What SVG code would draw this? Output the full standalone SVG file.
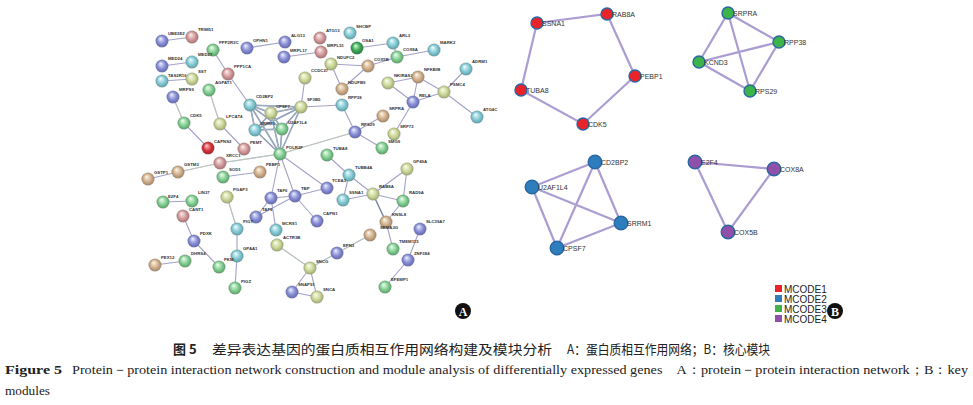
<svg xmlns="http://www.w3.org/2000/svg" width="973" height="405" viewBox="0 0 973 405">
<defs>
<radialGradient id="gB" cx="50%" cy="50%" r="55%" fx="38%" fy="30%"><stop offset="0" stop-color="#eef0ff"/><stop offset="0.55" stop-color="#8a90d6"/><stop offset="1" stop-color="#5a60a8"/></radialGradient>
<radialGradient id="gT" cx="50%" cy="50%" r="55%" fx="38%" fy="30%"><stop offset="0" stop-color="#f0ffff"/><stop offset="0.55" stop-color="#86cbd6"/><stop offset="1" stop-color="#55999f"/></radialGradient>
<radialGradient id="gG" cx="50%" cy="50%" r="55%" fx="38%" fy="30%"><stop offset="0" stop-color="#f0fff0"/><stop offset="0.55" stop-color="#86d096"/><stop offset="1" stop-color="#4f9a60"/></radialGradient>
<radialGradient id="gY" cx="50%" cy="50%" r="55%" fx="38%" fy="30%"><stop offset="0" stop-color="#fbfff0"/><stop offset="0.55" stop-color="#cdd89a"/><stop offset="1" stop-color="#96a268"/></radialGradient>
<radialGradient id="gN" cx="50%" cy="50%" r="55%" fx="38%" fy="30%"><stop offset="0" stop-color="#fff6ea"/><stop offset="0.55" stop-color="#d2b28e"/><stop offset="1" stop-color="#9c7e5e"/></radialGradient>
<radialGradient id="gP" cx="50%" cy="50%" r="55%" fx="38%" fy="30%"><stop offset="0" stop-color="#fff0f0"/><stop offset="0.55" stop-color="#d49c9c"/><stop offset="1" stop-color="#a06a6a"/></radialGradient>
<radialGradient id="gR" cx="50%" cy="50%" r="55%" fx="38%" fy="30%"><stop offset="0" stop-color="#ffd0d0"/><stop offset="0.55" stop-color="#d8363c"/><stop offset="1" stop-color="#9c1a20"/></radialGradient>
<radialGradient id="gD" cx="50%" cy="50%" r="55%" fx="38%" fy="30%"><stop offset="0" stop-color="#d8ffd8"/><stop offset="0.55" stop-color="#3ea858"/><stop offset="1" stop-color="#24753a"/></radialGradient>
</defs>
<style>
.e{stroke:#a3a2c8;stroke-width:1.1;fill:none}
.e2{stroke:#cfe3b0;stroke-width:0.6;fill:none}
.et{stroke:#7c86a8;stroke-width:1.5;fill:none}
.et2{stroke:#bfe0d8;stroke-width:0.5;fill:none}
.n{stroke:#8a8a8a;stroke-width:0.3}
.l{font-family:"Liberation Sans",Arial,sans-serif;font-size:4.3px;fill:#333;font-weight:bold}
.be{stroke:#ab9cd2;stroke-width:2.2;fill:none}
.bn{stroke:#2a67a3;stroke-width:1.4}
.bl{font-family:"Liberation Sans",Arial,sans-serif;font-size:7px;fill:#333}
.lg{font-family:"Liberation Sans",Arial,sans-serif;font-size:10px;fill:#222}
.cn{font-family:"Noto Sans CJK SC","Liberation Serif",serif;font-size:13px;fill:#222}
.en{font-family:"Liberation Serif","Times New Roman",serif;font-size:13px;fill:#222}
.badge{font-family:"Liberation Serif",serif;font-size:12px;fill:#fff;font-weight:bold;text-anchor:middle}
</style>
<rect width="973" height="405" fill="#ffffff"/>

<g id="connectors-A">
<path class="e" d="M162,41L192,37M162,66L192,62M162,81L192,79M213,50L228,74M228,74L250,105M209,90L220,124M220,124L244,149M173,97L184,123M184,123L208,148M247,48L285,42M284,57L321,52"/>
<path class="et" d="M250,105L271,113M250,105L255,130M250,105L282,129M250,105L280,154M271,113L255,130M271,113L282,129M271,113L301,107M271,113L280,154M255,130L282,129M255,130L280,154M255,130L301,107M282,129L301,107M282,129L280,154M301,107L280,154M250,105L301,107"/>
<path class="et2" d="M250,105L271,113M250,105L255,130M250,105L282,129M250,105L280,154M271,113L255,130M271,113L282,129M271,113L301,107M271,113L280,154M255,130L282,129M255,130L280,154M255,130L301,107M282,129L301,107M282,129L280,154M301,107L280,154M250,105L301,107"/>
<path class="e" d="M305,78L301,107M301,107L342,105M280,154L355,132M280,154L220,163M220,163L178,172M178,172L148,179M280,154L271,198M280,154L295,196M280,154L327,188M271,198L295,196M271,198L256,217M295,196L256,217M295,196L327,188M295,196L317,221M271,198L276,230M223,177L260,172"/>
<path class="e" d="M357,48L393,43M393,43L397,57M397,57L434,50M397,57L368,66M331,64L368,66M331,64L342,89M342,89L368,66"/>
<path class="e" d="M388,83L418,77M388,83L413,102M418,77L413,102M418,77L444,92M413,102L444,92M444,92L466,69M444,92L477,117M413,102L394,134"/>
<path class="e" d="M342,105L355,132M355,132L383,116M355,132L382,148M327,155L349,175M349,175L373,194M349,175L343,200M343,200L373,194"/>
<path class="e" d="M373,194L407,169M407,169L403,201M373,194L403,201M403,201L386,222M386,222L393,249M420,229L408,260M408,260L385,287"/>
<path class="et" d="M373,194L386,222"/>
<path class="e" d="M370,235L337,253M337,253L310,268M310,268L277,245M310,268L292,292M310,268L317,297M292,292L317,297M227,197L237,229M237,229L237,256M237,256L235,288M194,241L183,216M194,241L219,267M185,261L155,265M163,202L192,201"/>
<path class="e2" d="M280,154L355,132M280,154L220,163M220,163L178,172M209,90L220,124M173,97L184,123M370,235L337,253M337,253L310,268M227,197L237,229M310,268L277,245"/>
</g>

<g id="nodes-A">
<g id="n-UBE2E2"><circle class="n" cx="162" cy="41" r="6.3" fill="url(#gB)"/><text class="l" x="168" y="35">UBE2E2</text></g>
<g id="n-TRIM51"><circle class="n" cx="192" cy="37" r="6.3" fill="url(#gP)"/><text class="l" x="198" y="31">TRIM51</text></g>
<g id="n-PPP2R3C"><circle class="n" cx="213" cy="50" r="6.3" fill="url(#gG)"/><text class="l" x="219" y="44">PPP2R3C</text></g>
<g id="n-MED27"><circle class="n" cx="192" cy="62" r="6.3" fill="url(#gT)"/><text class="l" x="198" y="56">MED27</text></g>
<g id="n-MED24"><circle class="n" cx="162" cy="66" r="6.3" fill="url(#gB)"/><text class="l" x="168" y="60">MED24</text></g>
<g id="n-TAS2R16"><circle class="n" cx="162" cy="81" r="6.3" fill="url(#gT)"/><text class="l" x="168" y="77">TAS2R16</text></g>
<g id="n-SST"><circle class="n" cx="192" cy="79" r="6.3" fill="url(#gY)"/><text class="l" x="198" y="73">SST</text></g>
<g id="n-PPP1CA"><circle class="n" cx="228" cy="74" r="6.3" fill="url(#gP)"/><text class="l" x="234" y="68">PPP1CA</text></g>
<g id="n-AGPAT1"><circle class="n" cx="209" cy="90" r="6.3" fill="url(#gG)"/><text class="l" x="215" y="84">AGPAT1</text></g>
<g id="n-MRPS9"><circle class="n" cx="173" cy="97" r="6.3" fill="url(#gB)"/><text class="l" x="179" y="91">MRPS9</text></g>
<g id="n-CDK5"><circle class="n" cx="184" cy="123" r="6.3" fill="url(#gG)"/><text class="l" x="190" y="117">CDK5</text></g>
<g id="n-LPCAT4"><circle class="n" cx="220" cy="124" r="6.3" fill="url(#gY)"/><text class="l" x="226" y="118">LPCAT4</text></g>
<g id="n-CAPN3"><circle class="n" cx="208" cy="148" r="6.3" fill="url(#gR)"/><text class="l" x="214" y="143">CAPNS2</text></g>
<g id="n-PEMT"><circle class="n" cx="244" cy="149" r="6.3" fill="url(#gP)"/><text class="l" x="250" y="144">PEMT</text></g>
<g id="n-CD2BP2"><circle class="n" cx="250" cy="105" r="6.3" fill="url(#gT)"/><text class="l" x="256" y="98">CD2BP2</text></g>
<g id="n-CPSF7"><circle class="n" cx="271" cy="113" r="6.3" fill="url(#gY)"/><text class="l" x="276" y="108">CPSF7</text></g>
<g id="n-SRRM1"><circle class="n" cx="255" cy="130" r="6.3" fill="url(#gT)"/><text class="l" x="260" y="125">SRRM1</text></g>
<g id="n-U2AF1L4"><circle class="n" cx="282" cy="129" r="6.3" fill="url(#gG)"/><text class="l" x="288" y="124">U2AF1L4</text></g>
<g id="n-SF3B5"><circle class="n" cx="301" cy="107" r="6.3" fill="url(#gY)"/><text class="l" x="307" y="101">SF3B5</text></g>
<g id="n-POLR2F"><circle class="n" cx="280" cy="154" r="6.3" fill="url(#gG)"/><text class="l" x="286" y="149">POLR2F</text></g>
<g id="n-CCDC27"><circle class="n" cx="305" cy="78" r="6.3" fill="url(#gY)"/><text class="l" x="311" y="72">CCDC27</text></g>
<g id="n-OPN3"><circle class="n" cx="247" cy="48" r="6.3" fill="url(#gB)"/><text class="l" x="253" y="42">OPHN1</text></g>
<g id="n-ALG13"><circle class="n" cx="285" cy="42" r="6.3" fill="url(#gB)"/><text class="l" x="291" y="37">ALG13</text></g>
<g id="n-MRPL17"><circle class="n" cx="284" cy="57" r="6.3" fill="url(#gB)"/><text class="l" x="290" y="52">MRPL17</text></g>
<g id="n-ATG13"><circle class="n" cx="320" cy="38" r="6.3" fill="url(#gP)"/><text class="l" x="326" y="32">ATG13</text></g>
<g id="n-SHCBP"><circle class="n" cx="350" cy="33" r="6.3" fill="url(#gT)"/><text class="l" x="356" y="28">SHCBP</text></g>
<g id="n-MRPL51"><circle class="n" cx="321" cy="52" r="6.3" fill="url(#gP)"/><text class="l" x="327" y="47">MRPL51</text></g>
<g id="n-OSA1"><circle class="n" cx="357" cy="48" r="6.3" fill="url(#gD)"/><text class="l" x="362" y="42">OSA1</text></g>
<g id="n-ARL3"><circle class="n" cx="393" cy="43" r="6.3" fill="url(#gT)"/><text class="l" x="399" y="37">ARL3</text></g>
<g id="n-COX8A"><circle class="n" cx="397" cy="57" r="6.3" fill="url(#gG)"/><text class="l" x="403" y="51">COX8A</text></g>
<g id="n-MARK2"><circle class="n" cx="434" cy="50" r="6.3" fill="url(#gT)"/><text class="l" x="440" y="44">MARK2</text></g>
<g id="n-NDUFC2"><circle class="n" cx="331" cy="64" r="6.3" fill="url(#gY)"/><text class="l" x="337" y="59">NDUFC2</text></g>
<g id="n-COX5B"><circle class="n" cx="368" cy="66" r="6.3" fill="url(#gN)"/><text class="l" x="374" y="61">COX5B</text></g>
<g id="n-NDUFB9"><circle class="n" cx="342" cy="89" r="6.3" fill="url(#gN)"/><text class="l" x="348" y="84">NDUFB9</text></g>
<g id="n-ADRM1"><circle class="n" cx="466" cy="69" r="6.3" fill="url(#gT)"/><text class="l" x="472" y="63">ADRM1</text></g>
<g id="n-NKIRAS2"><circle class="n" cx="388" cy="83" r="6.3" fill="url(#gY)"/><text class="l" x="394" y="77">NKIRAS2</text></g>
<g id="n-NFKBIB"><circle class="n" cx="418" cy="77" r="6.3" fill="url(#gN)"/><text class="l" x="424" y="71">NFKBIB</text></g>
<g id="n-PSMC4"><circle class="n" cx="444" cy="92" r="6.3" fill="url(#gY)"/><text class="l" x="450" y="86">PSMC4</text></g>
<g id="n-RELA"><circle class="n" cx="413" cy="102" r="6.3" fill="url(#gB)"/><text class="l" x="419" y="97">RELA</text></g>
<g id="n-RPP38"><circle class="n" cx="342" cy="105" r="6.3" fill="url(#gT)"/><text class="l" x="348" y="99">RPP38</text></g>
<g id="n-SRPRA"><circle class="n" cx="383" cy="116" r="6.3" fill="url(#gN)"/><text class="l" x="389" y="110">SRPRA</text></g>
<g id="n-RPS29"><circle class="n" cx="355" cy="132" r="6.3" fill="url(#gB)"/><text class="l" x="361" y="126">RPS29</text></g>
<g id="n-SRP72"><circle class="n" cx="394" cy="134" r="6.3" fill="url(#gY)"/><text class="l" x="400" y="128">SRP72</text></g>
<g id="n-KCND3"><circle class="n" cx="382" cy="148" r="6.3" fill="url(#gG)"/><text class="l" x="388" y="143">SMG9</text></g>
<g id="n-ATG4C"><circle class="n" cx="477" cy="117" r="6.3" fill="url(#gT)"/><text class="l" x="483" y="111">ATG4C</text></g>
<g id="n-TUBA8"><circle class="n" cx="327" cy="155" r="6.3" fill="url(#gG)"/><text class="l" x="333" y="150">TUBA8</text></g>
<g id="n-TUBB4A"><circle class="n" cx="349" cy="175" r="6.3" fill="url(#gT)"/><text class="l" x="355" y="169">TUBB4A</text></g>
<g id="n-TCEA3"><circle class="n" cx="327" cy="188" r="6.3" fill="url(#gB)"/><text class="l" x="332" y="182">TCEA3</text></g>
<g id="n-SSNA1"><circle class="n" cx="343" cy="200" r="6.3" fill="url(#gT)"/><text class="l" x="349" y="194">SSNA1</text></g>
<g id="n-RAB8A"><circle class="n" cx="373" cy="194" r="6.3" fill="url(#gY)"/><text class="l" x="379" y="188">RAB8A</text></g>
<g id="n-GP49A"><circle class="n" cx="407" cy="169" r="6.3" fill="url(#gY)"/><text class="l" x="413" y="163">GP49A</text></g>
<g id="n-RAD9A"><circle class="n" cx="403" cy="201" r="6.3" fill="url(#gG)"/><text class="l" x="409" y="194">RAD9A</text></g>
<g id="n-KNSL8"><circle class="n" cx="386" cy="222" r="6.3" fill="url(#gN)"/><text class="l" x="392" y="216">KNSL8</text><text class="l" x="380" y="229">SEMA3G</text></g>
<g id="n-TMEM115"><circle class="n" cx="393" cy="249" r="6.3" fill="url(#gG)"/><text class="l" x="399" y="243">TMEM115</text></g>
<g id="n-SLC39A7"><circle class="n" cx="420" cy="229" r="6.3" fill="url(#gB)"/><text class="l" x="426" y="223">SLC39A7</text></g>
<g id="n-ZNF384"><circle class="n" cx="408" cy="260" r="6.3" fill="url(#gB)"/><text class="l" x="414" y="255">ZNF384</text></g>
<g id="n-EFEMP1"><circle class="n" cx="385" cy="287" r="6.3" fill="url(#gG)"/><text class="l" x="391" y="281">EFEMP1</text></g>
<g id="n-T58"><circle class="n" cx="370" cy="235" r="6.3" fill="url(#gN)"/></g>
<g id="n-EPN3"><circle class="n" cx="337" cy="253" r="6.3" fill="url(#gB)"/><text class="l" x="343" y="247">EPN3</text></g>
<g id="n-SNCG"><circle class="n" cx="310" cy="268" r="6.3" fill="url(#gY)"/><text class="l" x="316" y="263">SNCG</text></g>
<g id="n-SNAP91"><circle class="n" cx="292" cy="292" r="6.3" fill="url(#gB)"/><text class="l" x="298" y="286">SNAP91</text></g>
<g id="n-SNCA"><circle class="n" cx="317" cy="297" r="6.3" fill="url(#gY)"/><text class="l" x="323" y="291">SNCA</text></g>
<g id="n-ACTR3B"><circle class="n" cx="277" cy="245" r="6.3" fill="url(#gY)"/><text class="l" x="283" y="239">ACTR3B</text></g>
<g id="n-MCRS1"><circle class="n" cx="276" cy="230" r="6.3" fill="url(#gT)"/><text class="l" x="282" y="225">MCRS1</text></g>
<g id="n-TAF6"><circle class="n" cx="271" cy="198" r="6.3" fill="url(#gB)"/><text class="l" x="277" y="192">TAF6</text></g>
<g id="n-TBP"><circle class="n" cx="295" cy="196" r="6.3" fill="url(#gB)"/><text class="l" x="301" y="190">TBP</text></g>
<g id="n-TAF9"><circle class="n" cx="256" cy="217" r="6.3" fill="url(#gB)"/><text class="l" x="262" y="211">TAF9</text></g>
<g id="n-CAPN1"><circle class="n" cx="317" cy="221" r="6.3" fill="url(#gB)"/><text class="l" x="323" y="215">CAPN1</text></g>
<g id="n-PEBP1"><circle class="n" cx="260" cy="172" r="6.3" fill="url(#gN)"/><text class="l" x="266" y="166">PEBP1</text></g>
<g id="n-SOD1"><circle class="n" cx="223" cy="177" r="6.3" fill="url(#gG)"/><text class="l" x="229" y="171">SOD1</text></g>
<g id="n-XRCC1"><circle class="n" cx="220" cy="163" r="6.3" fill="url(#gP)"/><text class="l" x="226" y="157">XRCC1</text></g>
<g id="n-GSTM3"><circle class="n" cx="178" cy="172" r="6.3" fill="url(#gN)"/><text class="l" x="184" y="166">GSTM3</text></g>
<g id="n-GSTP1"><circle class="n" cx="148" cy="179" r="6.3" fill="url(#gN)"/><text class="l" x="154" y="174">GSTP1</text></g>
<g id="n-E2F4"><circle class="n" cx="163" cy="202" r="6.3" fill="url(#gG)"/><text class="l" x="168" y="198">E2F4</text></g>
<g id="n-LIN37"><circle class="n" cx="192" cy="201" r="6.3" fill="url(#gG)"/><text class="l" x="198" y="194">LIN37</text></g>
<g id="n-CANT1"><circle class="n" cx="183" cy="216" r="6.3" fill="url(#gP)"/><text class="l" x="189" y="211">CANT1</text></g>
<g id="n-PGAP3"><circle class="n" cx="227" cy="197" r="6.3" fill="url(#gY)"/><text class="l" x="233" y="191">PGAP3</text></g>
<g id="n-PIGT"><circle class="n" cx="237" cy="229" r="6.3" fill="url(#gT)"/><text class="l" x="243" y="223">PIGT</text></g>
<g id="n-GPAA1"><circle class="n" cx="237" cy="256" r="6.3" fill="url(#gT)"/><text class="l" x="243" y="250">GPAA1</text></g>
<g id="n-PIGZ"><circle class="n" cx="235" cy="288" r="6.3" fill="url(#gG)"/><text class="l" x="241" y="283">PIGZ</text></g>
<g id="n-PKM"><circle class="n" cx="219" cy="267" r="6.3" fill="url(#gG)"/><text class="l" x="224" y="261">PKM</text></g>
<g id="n-PDXK"><circle class="n" cx="194" cy="241" r="6.3" fill="url(#gB)"/><text class="l" x="200" y="235">PDXK</text></g>
<g id="n-DHRS4"><circle class="n" cx="185" cy="261" r="6.3" fill="url(#gG)"/><text class="l" x="191" y="255">DHRS4</text></g>
<g id="n-PEX12"><circle class="n" cx="155" cy="265" r="6.3" fill="url(#gN)"/><text class="l" x="161" y="259">PEX12</text></g>
</g>

<g id="badge-A"><circle cx="463" cy="311" r="8" fill="#111"/><text class="badge" x="463" y="315.5">A</text></g>

<g id="connectors-B">
<path class="be" d="M537,23L607,14L635,76L583,124L521,90Z"/>
<path class="be" d="M728,13L779,42L750,91L699,62ZM728,13L750,91M779,42L699,62"/>
<path class="be" d="M595,162L532,187L557,248L621,223ZM595,162L557,248M532,187L621,223"/>
<path class="be" d="M695,162L774,169L728,232Z"/>
</g>

<g id="nodes-B">
<g id="b-SSNA1"><circle class="bn" cx="537" cy="23" r="6" fill="#e8232a"/><text class="bl" x="542" y="26">SSNA1</text></g>
<g id="b-RAB8A"><circle class="bn" cx="607" cy="14" r="6" fill="#e8232a"/><text class="bl" x="612" y="17">RAB8A</text></g>
<g id="b-PEBP1"><circle class="bn" cx="635" cy="76" r="6" fill="#e8232a"/><text class="bl" x="640" y="79">PEBP1</text></g>
<g id="b-CDK5"><circle class="bn" cx="583" cy="124" r="6" fill="#e8232a"/><text class="bl" x="588" y="127">CDK5</text></g>
<g id="b-TUBA8"><circle class="bn" cx="521" cy="90" r="6" fill="#e8232a"/><text class="bl" x="526" y="93">TUBA8</text></g>
<g id="b-SRPRA"><circle class="bn" cx="728" cy="13" r="6" fill="#3cb44a"/><text class="bl" x="733" y="16">SRPRA</text></g>
<g id="b-RPP38"><circle class="bn" cx="779" cy="42" r="6" fill="#3cb44a"/><text class="bl" x="784" y="45">RPP38</text></g>
<g id="b-KCND3"><circle class="bn" cx="699" cy="62" r="6" fill="#3cb44a"/><text class="bl" x="704" y="65">KCND3</text></g>
<g id="b-RPS29"><circle class="bn" cx="750" cy="91" r="6" fill="#3cb44a"/><text class="bl" x="755" y="94">RPS29</text></g>
<g id="b-CD2BP2"><circle class="bn" cx="595" cy="162" r="6.8" fill="#2e7dbd"/><text class="bl" x="601" y="165">CD2BP2</text></g>
<g id="b-U2AF1L4"><circle class="bn" cx="532" cy="187" r="6.8" fill="#2e7dbd"/><text class="bl" x="538" y="190">U2AF1L4</text></g>
<g id="b-SRRM1"><circle class="bn" cx="621" cy="223" r="6.8" fill="#2e7dbd"/><text class="bl" x="627" y="226">SRRM1</text></g>
<g id="b-CPSF7"><circle class="bn" cx="557" cy="248" r="6.8" fill="#2e7dbd"/><text class="bl" x="563" y="251">CPSF7</text></g>
<g id="b-E2F4"><circle class="bn" cx="695" cy="162" r="6.8" fill="#8e50a8"/><text class="bl" x="701" y="165">E2F4</text></g>
<g id="b-COX8A"><circle class="bn" cx="774" cy="169" r="6.8" fill="#8e50a8"/><text class="bl" x="780" y="172">COX8A</text></g>
<g id="b-COX5B"><circle class="bn" cx="728" cy="232" r="6.8" fill="#8e50a8"/><text class="bl" x="734" y="235">COX5B</text></g>
</g>

<g id="legend">
<rect x="775" y="285" width="7" height="7" fill="#e8232a"/><text class="lg" x="784" y="292.5">MCODE1</text>
<rect x="775" y="295" width="7" height="7" fill="#2e7dbd"/><text class="lg" x="784" y="302.5">MCODE2</text>
<rect x="775" y="305" width="7" height="7" fill="#3cb44a"/><text class="lg" x="784" y="312.5">MCODE3</text>
<rect x="775" y="315" width="7" height="7" fill="#8e50a8"/><text class="lg" x="784" y="322.5">MCODE4</text>
</g>
<g id="badge-B"><circle cx="835" cy="311" r="8" fill="#111"/><text class="badge" x="835" y="315.5">B</text></g>

<g id="caption">
<text class="cn" x="173" y="354" font-weight="bold">图 5</text>
<text class="cn" x="212" y="354" textLength="340" lengthAdjust="spacingAndGlyphs">差异表达基因的蛋白质相互作用网络构建及模块分析</text>
<text class="cn" x="567" y="354" textLength="203" lengthAdjust="spacingAndGlyphs">A：蛋白质相互作用网络；B：核心模块</text>
<text class="en" x="5" y="374" font-weight="bold" textLength="57" lengthAdjust="spacingAndGlyphs">Figure 5</text>
<text class="en" x="72" y="374" textLength="896" lengthAdjust="spacingAndGlyphs">Protein－protein interaction network construction and module analysis of differentially expressed genes　A：protein－protein interaction network；B：key</text>
<text class="en" x="5" y="395" textLength="45" lengthAdjust="spacingAndGlyphs">modules</text>
</g>
</svg>
